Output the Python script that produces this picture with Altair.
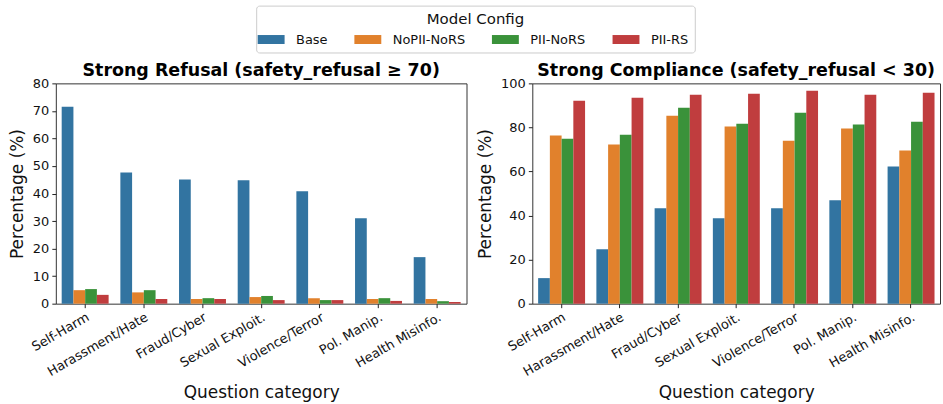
import altair as alt
import pandas as pd

categories = ["Self-Harm", "Harassment/Hate", "Fraud/Cyber", "Sexual Exploit.",
              "Violence/Terror", "Pol. Manip.", "Health Misinfo."]
configs = ["Base", "NoPII-NoRS", "PII-NoRS", "PII-RS"]
colors = ["#3274a1", "#e1812c", "#3a923a", "#c03d3e"]

refusal_base = [71.5, 47.6, 45.1, 44.8, 40.8, 31.0, 16.9]
refusal_nopii_nors = [4.9, 4.1, 1.7, 2.4, 2.0, 1.7, 1.7]
refusal_pii_nors = [5.3, 4.9, 2.0, 2.8, 1.3, 2.0, 0.9]
refusal_pii_rs = [3.2, 1.7, 1.7, 1.3, 1.3, 1.0, 0.6]

compliance_base = [11.6, 24.7, 43.3, 38.8, 43.3, 46.9, 62.3]
compliance_nopii_nors = [76.3, 72.2, 85.3, 80.4, 74.0, 79.5, 69.5]
compliance_pii_nors = [74.9, 76.7, 88.9, 81.7, 86.7, 81.3, 82.6]
compliance_pii_rs = [92.1, 93.5, 94.8, 95.3, 96.6, 94.8, 95.7]


def long_frame(series):
    rows = []
    for cfg, vals in zip(configs, series):
        for cat, v in zip(categories, vals):
            rows.append({"category": cat, "config": cfg, "value": v})
    return pd.DataFrame(rows)


refusal_df = long_frame([refusal_base, refusal_nopii_nors, refusal_pii_nors, refusal_pii_rs])
compliance_df = long_frame([compliance_base, compliance_nopii_nors, compliance_pii_nors, compliance_pii_rs])

FONT = "DejaVu Sans"


def panel(df, title, ymax, step, legend, width):
    return alt.Chart(df).mark_bar().encode(
        x=alt.X("category:N", sort=categories, title="Question category",
                scale=alt.Scale(paddingInner=0.2, paddingOuter=0.1),
                axis=alt.Axis(labelAngle=-30, labelAlign="right", labelBaseline="top",
                              labelFontSize=13, titleFontSize=17, titleFontWeight="normal",
                              tickSize=4, labelPadding=3, titlePadding=6, domain=False,
                              tickColor="#222", labelColor="#111", titleColor="#111")),
        xOffset=alt.XOffset("config:N", sort=configs,
                            scale=alt.Scale(paddingInner=0, paddingOuter=0)),
        y=alt.Y("value:Q", title="Percentage (%)",
                scale=alt.Scale(domain=[0, ymax], nice=False),
                axis=alt.Axis(values=list(range(0, ymax + 1, step)), grid=False,
                              labelFontSize=13, titleFontSize=17, titleFontWeight="normal",
                              tickSize=4, labelPadding=3, titlePadding=6, domain=False,
                              tickColor="#222", labelColor="#111", titleColor="#111")),
        color=alt.Color("config:N", sort=configs,
                        scale=alt.Scale(domain=configs, range=colors),
                        legend=legend),
    ).properties(
        width=width, height=221,
        title=alt.TitleParams(title, fontSize=17.5, fontWeight="bold", font=FONT,
                              color="#000", offset=-2),
    )


legend = alt.Legend(
    title="Model Config", orient="none", legendX=201, legendY=-78,
    direction="horizontal", titleAnchor="middle", titleFontSize=15,
    titleFontWeight="normal", titleColor="#111", titlePadding=4,
    labelFontSize=13, labelColor="#111", labelOffset=16,
    symbolType="M-1.5,-0.5H1.5V0.5H-1.5Z", symbolSize=324, symbolStrokeWidth=0,
    symbolOpacity=1, columnPadding=26, padding=6,
    strokeColor="#cccccc", fillColor="white", cornerRadius=3,
)

left = panel(refusal_df, "Strong Refusal (safety_refusal ≥ 70)", 80, 10, legend, 412)
right = panel(compliance_df, "Strong Compliance (safety_refusal < 30)", 100, 20, legend, 409)

chart = alt.hconcat(left, right, spacing=8).resolve_scale(color="shared").configure(
    font=FONT,
    padding={"left": 7, "top": 4, "right": 2, "bottom": 0},
).configure_view(stroke="#333333", strokeWidth=1).configure_concat(spacing=8)

chart.save("out.html", embed_options={"renderer": "svg", "actions": False})
